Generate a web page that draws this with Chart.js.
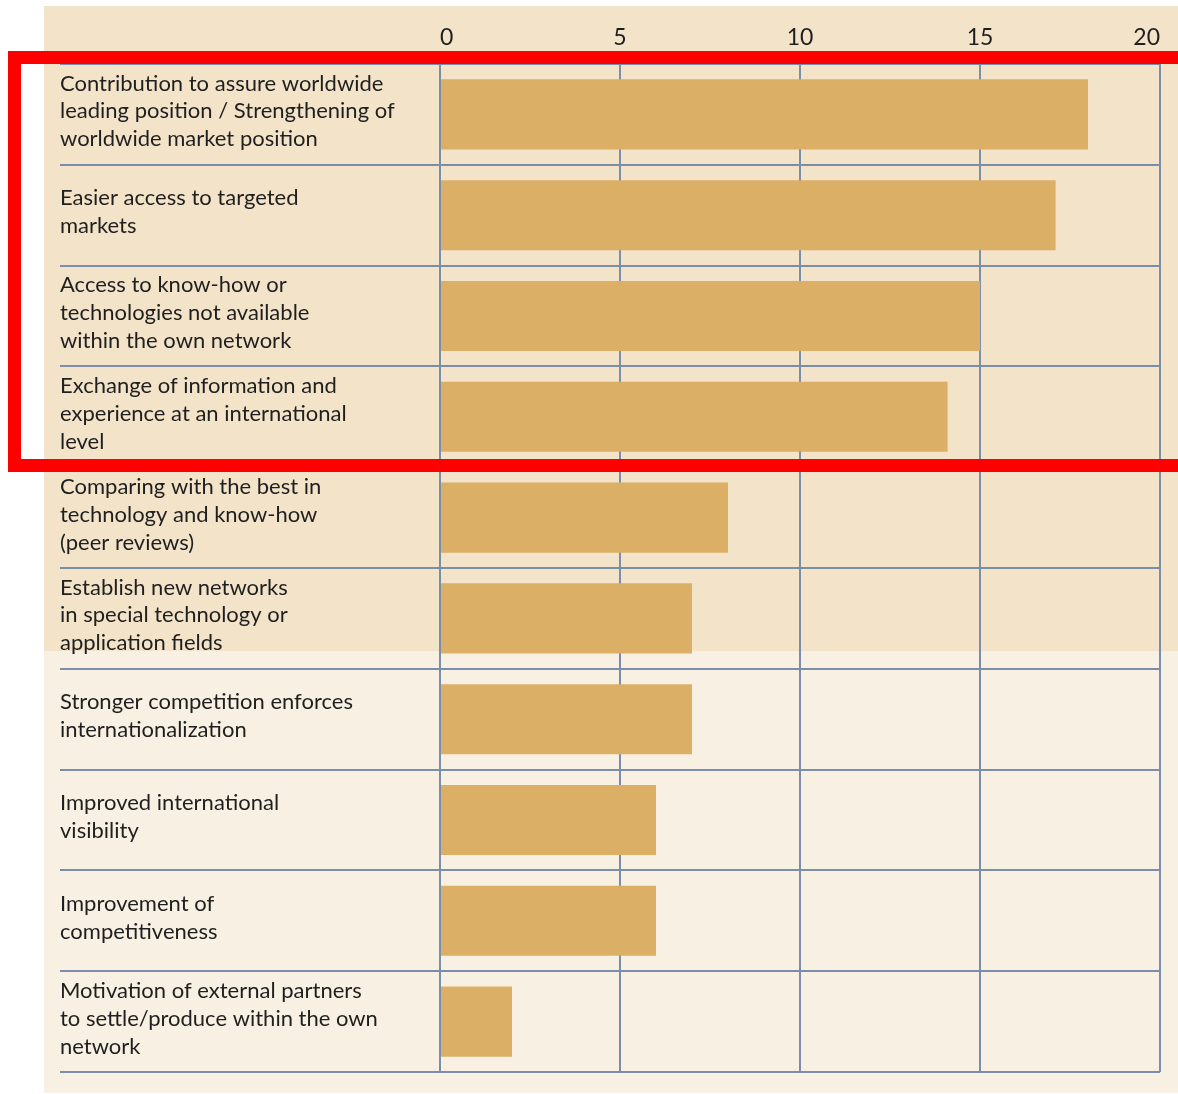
<!DOCTYPE html>
<html>
<head>
<meta charset="utf-8">
<script src="https://cdn.jsdelivr.net/npm/chart.js@4"></script>
<style>
  body { margin: 0; background: #ffffff; }
  canvas { display: block; }
</style>
</head>
<body>
<canvas id="myChart" width="1178" height="1094"></canvas>
<script>
const categories = [
    ['Contribution to assure worldwide', 'leading position / Strengthening of', 'worldwide market position'],
    ['Easier access to targeted', 'markets'],
    ['Access to know-how or', 'technologies not available', 'within the own network'],
    ['Exchange of information and', 'experience at an international', 'level'],
    ['Comparing with the best in', 'technology and know-how', '(peer reviews)'],
    ['Establish new networks', 'in special technology or', 'application fields'],
    ['Stronger competition enforces', 'internationalization'],
    ['Improved international', 'visibility'],
    ['Improvement of', 'competitiveness'],
    ['Motivation of external partners', 'to settle/produce within the own', 'network']
];
const values = [18, 17.1, 15, 14.1, 8, 7, 7, 6, 6, 2];
const xTicks = [0, 5, 10, 15, 20];

const grid_color = '#7a8daa';
const text_color = '#1f1f1f';

// panel backgrounds behind the chart
const backdrop = {
    id: 'backdrop',
    beforeDraw(chart) {
        const c = chart.ctx;
        c.save();
        c.fillStyle = '#ffffff';
        c.fillRect(0, 0, chart.width, chart.height);
        c.fillStyle = '#f3e3c9';
        c.fillRect(44, 6, chart.width - 44, 645);
        c.fillStyle = '#f8f0e2';
        c.fillRect(44, 651, chart.width - 44, 442);
        c.restore();
    }
};

// red highlight frame round the first four rows
const highlight = {
    id: 'highlight',
    afterDraw(chart) {
        const c = chart.ctx;
        c.save();
        c.strokeStyle = '#ff0000';
        c.lineWidth = 13;
        c.strokeRect(14.5, 57.5, chart.width + 20, 408);
        c.restore();
    }
};

const ctx = document.getElementById('myChart').getContext('2d');

const chart = new Chart(ctx, {
    type: 'bar',
    data: {
        labels: categories,
        datasets: [{
            data: values,
            backgroundColor: '#dbaf66',
            borderWidth: 0,
            categoryPercentage: 1,
            barPercentage: 0.695
        }]
    },
    options: {
        indexAxis: 'y',
        responsive: false,
        animation: false,
        layout: {
            padding: { left: 60, right: 18, top: 20, bottom: 22 }
        },
        plugins: {
            legend: { display: false },
            tooltip: { enabled: false }
        },
        scales: {
            x: {
                position: 'top',
                min: 0,
                max: 20,
                afterBuildTicks: (scale) => {
                    scale.ticks = xTicks.map(v => ({ value: v }));
                },
                afterFit: (scale) => {
                    scale.height = 44;
                    scale.paddingLeft = 0;
                    scale.paddingRight = 0;
                },
                grid: { color: grid_color, lineWidth: 2, drawTicks: false },
                border: { display: false },
                ticks: {
                    align: 'inner',
                    color: text_color,
                    padding: 13,
                    font: { family: 'Lato', size: 23 }
                }
            },
            y: {
                afterFit: (scale) => {
                    scale.width = 380;
                    scale.paddingTop = 0;
                    scale.paddingBottom = 0;
                },
                grid: { color: grid_color, lineWidth: 2, offset: true, drawTicks: true, tickLength: 380 },
                border: { display: false },
                ticks: {
                    autoSkip: false,
                    crossAlign: 'far',
                    labelOffset: -3,
                    color: text_color,
                    font: { family: 'Lato', size: 22, lineHeight: 1.27 }
                }
            }
        }
    },
    plugins: [backdrop, highlight]
});
</script>
</body>
</html>
